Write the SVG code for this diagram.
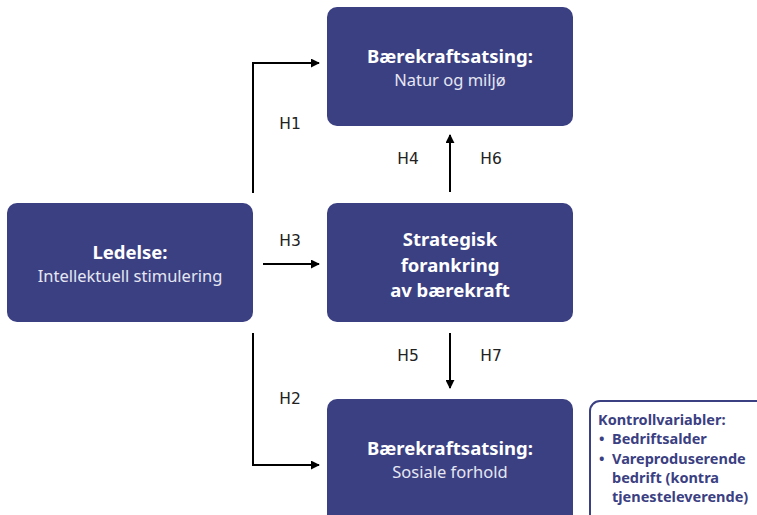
<svg xmlns="http://www.w3.org/2000/svg" width="757" height="515" viewBox="0 0 757 515">
<defs>
<marker id="ah" viewBox="0 0 10 10" refX="9" refY="5" markerWidth="9" markerHeight="9" markerUnits="userSpaceOnUse" orient="auto">
<path d="M0,0 L10,5 L0,10 z" fill="#000"/>
</marker>
</defs>
<style>
.box{fill:#3b4082;}
.t{font-family:"Noto Sans","Open Sans",sans-serif;fill:#fff;text-anchor:middle;}
.b{font-weight:bold;font-size:18.5px;}
.r{font-size:16.5px;fill:#e6e7f2;}
.lbl{font-family:"DejaVu Sans",sans-serif;font-size:15.5px;fill:#222;text-anchor:middle;}
.c{fill:none;stroke:#000;stroke-width:2;marker-end:url(#ah);}
.k{font-family:"Noto Sans","Open Sans",sans-serif;font-weight:bold;font-size:14.5px;fill:#3b4082;}
</style>
<rect width="757" height="515" fill="#fff"/>
<g id="connectors">
<path class="c" d="M253,193 V63 H319"/>
<path class="c" d="M263,264 H319"/>
<path class="c" d="M253,333 V465 H319"/>
<path class="c" d="M450,192 V135"/>
<path class="c" d="M450,333 V388"/>
<text class="lbl" x="290" y="129">H1</text>
<text class="lbl" x="290" y="246">H3</text>
<text class="lbl" x="290" y="404">H2</text>
<text class="lbl" x="408" y="164">H4</text>
<text class="lbl" x="491" y="164">H6</text>
<text class="lbl" x="408" y="361">H5</text>
<text class="lbl" x="491" y="361">H7</text>
</g>
<g id="natur">
<rect class="box" x="327" y="7" width="246" height="119" rx="10"/>
<text class="t b" x="450" y="63">Bærekraftsatsing:</text>
<text class="t r" x="450" y="86">Natur og miljø</text>
</g>
<g id="ledelse">
<rect class="box" x="7" y="203" width="246" height="119" rx="10"/>
<text class="t b" x="130" y="259">Ledelse:</text>
<text class="t r" x="130" y="282">Intellektuell stimulering</text>
</g>
<g id="strategisk">
<rect class="box" x="327" y="203" width="246" height="119" rx="10"/>
<text class="t b" x="450" y="246">Strategisk</text>
<text class="t b" x="450" y="272">forankring</text>
<text class="t b" x="450" y="297">av bærekraft</text>
</g>
<g id="sosiale">
<rect class="box" x="327" y="399" width="246" height="130" rx="10"/>
<text class="t b" x="450" y="455">Bærekraftsatsing:</text>
<text class="t r" x="450" y="478">Sosiale forhold</text>
</g>
<g id="kontroll">
<rect x="590" y="401" width="200" height="150" rx="10" fill="#fff" stroke="#3b4082" stroke-width="2"/>
<text class="k" x="598" y="425">Kontrollvariabler:</text>
<text class="k" x="599" y="444">•</text>
<text class="k" x="612" y="444">Bedriftsalder</text>
<text class="k" x="599" y="464">•</text>
<text class="k" x="612" y="464">Vareproduserende</text>
<text class="k" x="612" y="483">bedrift (kontra</text>
<text class="k" x="612" y="502">tjenesteleverende)</text>
</g>
</svg>
